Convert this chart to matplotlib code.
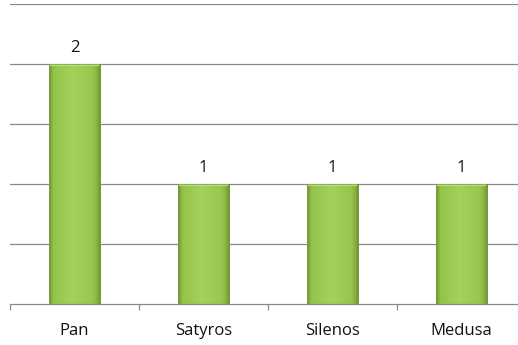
import numpy as np
import matplotlib.pyplot as plt
from matplotlib.colors import LinearSegmentedColormap

# chart data
categories = ["Pan", "Satyros", "Silenos", "Medusa"]
counts = [2, 1, 1, 1]
gridlines = [0, 0.5, 1, 1.5, 2, 2.5]

fig = plt.figure(figsize=(5.18, 3.45), dpi=100)
ax = fig.add_axes([10 / 518, 41 / 345, 516 / 518, 300 / 345])

x = np.arange(len(categories))
bar_w = 0.4

# horizontal green gradient, darker at the edges like the Excel bevel
green = LinearSegmentedColormap.from_list(
    "green", [(0, "#6f9632"), (0.08, "#94c34b"), (0.45, "#a4d15b"),
              (0.85, "#98c64e"), (0.94, "#86b040"), (1, "#6a8f2f")])
grad = np.linspace(0, 1, 64).reshape(1, -1)

bars = ax.bar(x, counts, width=bar_w, color="none", edgecolor="#7a9c3c",
              linewidth=0.5, zorder=3)
for b in bars:
    x0, y0 = b.get_x(), b.get_y()
    w, h = b.get_width(), b.get_height()
    im = ax.imshow(grad, cmap=green, aspect="auto",
                   extent=[x0, x0 + w, y0, y0 + h], zorder=2.5)
    im.set_clip_path(b)
    # faint light strip on the top edge
    ax.fill_between([x0 + 0.01, x0 + w - 0.01], y0 + h - 0.02, y0 + h,
                    color="#b9dc80", zorder=2.6, linewidth=0)

for xi, v in zip(x, counts):
    ax.text(xi, v + 0.07, str(v), ha="center", va="bottom",
            fontsize=12, family="Open Sans", color="#111111")

ax.set_xlim(-0.5, len(categories) - 0.5)
ax.set_ylim(0, 2.5)
for g in gridlines[1:]:
    ax.axhline(g, color="#8a8a8a", linewidth=0.9, zorder=1)

ax.set_yticks([])
ax.set_xticks(x)
ax.set_xticklabels(categories, fontsize=12, family="Open Sans", color="#111111")
ax.tick_params(axis="x", length=0, pad=14)
ax.set_xticks(np.arange(len(categories) + 1) - 0.5, minor=True)
ax.tick_params(axis="x", which="minor", length=4, color="#8a8a8a", width=0.9)

for s in ["top", "right", "left"]:
    ax.spines[s].set_visible(False)
ax.spines["bottom"].set_color("#8a8a8a")
ax.spines["bottom"].set_linewidth(0.9)

fig.savefig("out.png", dpi=100)
